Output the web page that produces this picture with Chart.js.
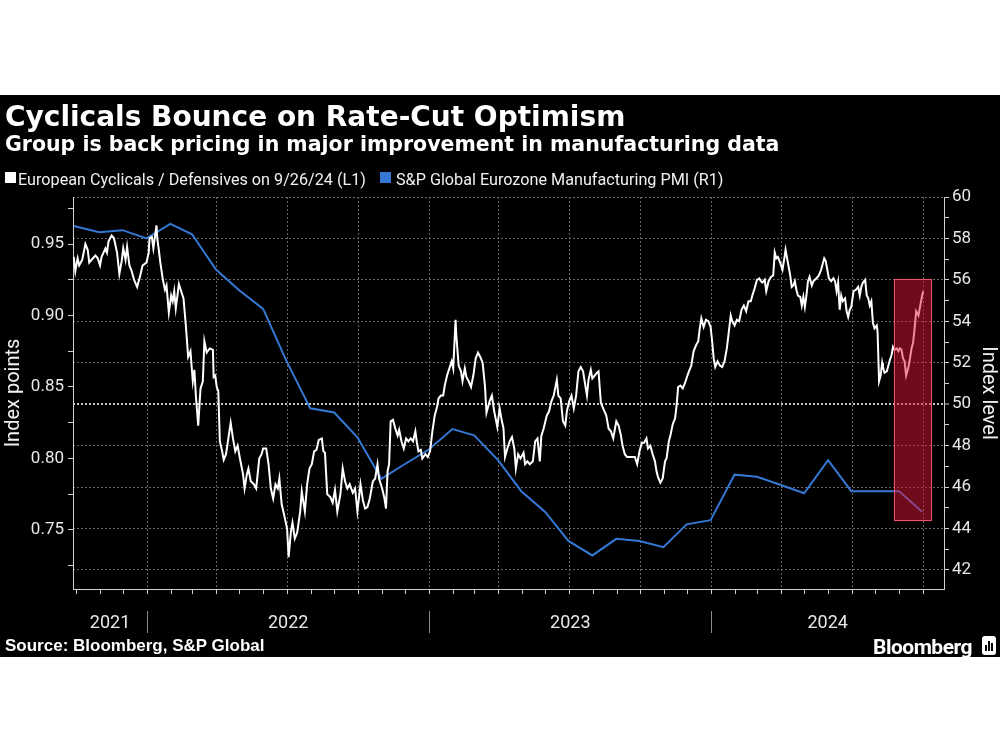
<!DOCTYPE html>
<html lang="en">
<head>
<meta charset="utf-8">
<title>Cyclicals Bounce on Rate-Cut Optimism</title>
<script src="https://cdn.jsdelivr.net/npm/chart.js@4.4.1/dist/chart.umd.min.js"></script>
<style>
  html, body { margin: 0; padding: 0; background: #fff; }
  #panel { position: absolute; left: 0; top: 95px; width: 1000px; height: 562px; background: #000; overflow: hidden; }
  #chartWrap { position: absolute; left: 0; top: 0; width: 1000px; height: 562px; }
  .txt { position: absolute; color: #fff; white-space: nowrap; line-height: 1; }
  #title { left: 5px; top: 5px; font: bold 28px 'DejaVu Sans', sans-serif; }
  #subtitle { left: 5px; top: 37px; font: bold 20.5px 'DejaVu Sans', sans-serif; }
  .legText { top: 75px; font: 16.2px Roboto, sans-serif; color: #f0f0f0; }
  .legBox { position: absolute; top: 77px; width: 11px; height: 11px; }
  #source { left: 5px; top: 541px; font: bold 17px 'Liberation Sans', sans-serif; }
  #brand { right: 28px; top: 540px; font: bold 21px Roboto, sans-serif; letter-spacing: -0.5px; }
  #brandIcon { position: absolute; left: 982px; top: 541px; width: 14px; height: 19px; background: #fff; border-radius: 3px; }
  #brandIcon span { position: absolute; bottom: 4px; width: 2px; background: #000; }
</style>
</head>
<body>
<div id="panel">
  <div id="chartWrap"><canvas id="chart"></canvas></div>
  <div class="txt" id="title">Cyclicals Bounce on Rate-Cut Optimism</div>
  <div class="txt" id="subtitle">Group is back pricing in major improvement in manufacturing data</div>
  <div class="legBox" id="legBox1" style="left:5px"></div>
  <div class="txt legText" style="left:18px">European Cyclicals / Defensives on 9/26/24 (L1)</div>
  <div class="legBox" id="legBox2" style="left:380px"></div>
  <div class="txt legText" style="left:396px">S&amp;P Global Eurozone Manufacturing PMI (R1)</div>
  <div class="txt" id="source">Source: Bloomberg, S&amp;P Global</div>
  <div class="txt" id="brand">Bloomberg</div>
  <div id="brandIcon"><span style="left:3px;height:6px"></span><span style="left:6px;height:10px"></span><span style="left:9px;height:8px"></span></div>
</div>
<script>
// x values are days counted from 1 Jan 2022
const ratioDays = [
  -95, -93, -90, -88, -84, -80, -77, -75, -72, -67,
  -64, -61, -59, -54, -52, -50, -46, -43, -39, -36,
  -33, -31, -28, -26, -23, -20, -17, -13, -9, -6,
  -1, 2, 3, 6, 8, 12, 13, 15, 17, 20,
  23, 25, 28, 31, 33, 35, 37, 41, 44, 47,
  50, 53, 56, 59, 61, 63, 66, 69, 72, 74,
  77, 81,
  85, 86, 88, 90, 92, 94, 97, 99, 102, 105,
  108, 111, 114, 117, 120, 124, 126, 129, 131, 134,
  138, 141, 145, 148, 150, 154, 157, 160, 163, 166,
  169, 171, 174, 177, 181, 183, 186, 188, 191, 194,
  198, 200, 204, 207, 210, 213, 216, 219, 222, 226,
  228, 230, 233, 237, 240, 243, 246, 250, 253, 256,
  259, 262, 266,
  269, 272, 276, 279, 282, 285, 288, 292, 295, 298,
  300, 304, 307, 309, 311, 313, 315, 318, 321, 324,
  326, 329, 332, 335, 338, 341, 344, 347, 349, 351,
  354, 356, 360, 363, 366, 369, 372, 375, 377, 380,
  383, 385, 388, 391, 394, 396, 399, 400, 403, 406,
  408, 411, 413, 416, 419, 422, 425, 428, 431, 434,
  437, 439, 443, 446, 449,
  453, 456, 459, 461, 463, 466, 469, 472, 475, 477,
  480, 483, 487, 489, 492, 495, 499, 502, 505, 508,
  510, 513, 517, 520, 523, 526, 530, 532, 535, 538,
  541, 543, 546, 549, 552, 555, 558, 561, 564, 566,
  569, 571, 574, 576, 579, 582, 584, 587, 590, 594,
  597, 600, 603, 607, 610, 613, 615, 618, 621, 625,
  628,
  631, 634, 637, 640, 643, 646, 648, 651, 654, 657,
  659, 661, 664, 667, 670, 672, 675, 677, 680, 683,
  685, 687, 690, 693, 696, 699, 701, 704, 707, 710,
  713, 715, 717, 720, 723, 726, 729, 731, 733, 735,
  738, 741, 744, 747, 750, 752, 755, 757, 760, 763,
  766, 769, 772, 775, 778, 781, 783, 786, 789, 792,
  794, 796, 799, 801, 804, 807, 810, 812,
  814, 816, 819, 822, 825, 826, 828, 831, 832, 834,
  836, 838, 840, 842, 845, 847, 849, 851, 853, 855,
  857, 860, 862, 864, 866, 869, 872, 876, 878, 880,
  882, 885, 888, 890, 892, 894, 896, 898, 900, 903,
  905, 907, 909, 911, 914, 917, 920, 922, 924, 926,
  929, 931, 933, 935, 937, 939, 941, 944, 945, 947,
  949, 951, 952, 954, 957, 959, 961, 963, 965, 967,
  970, 972, 974, 976, 978, 980, 982, 985, 987, 989,
  991, 993, 995, 998, 1000, 1002, 1004
];
const ratioValues = [
  0.941, 0.931, 0.940, 0.935, 0.939, 0.950, 0.946, 0.937, 0.939, 0.942,
  0.940, 0.935, 0.941, 0.947, 0.944, 0.952, 0.956, 0.954, 0.944, 0.929,
  0.938, 0.947, 0.939, 0.948, 0.935, 0.931, 0.925, 0.920, 0.928, 0.935,
  0.937, 0.944, 0.954, 0.955, 0.947, 0.963, 0.954, 0.946, 0.937, 0.926,
  0.918, 0.921, 0.902, 0.914, 0.910, 0.917, 0.905, 0.922, 0.917, 0.912,
  0.893, 0.871, 0.875, 0.854, 0.862, 0.844, 0.823, 0.849, 0.854, 0.882,
  0.874, 0.877,
  0.876, 0.857, 0.858, 0.850, 0.847, 0.812, 0.805, 0.799, 0.803, 0.814,
  0.825, 0.814, 0.805, 0.809, 0.800, 0.789, 0.779, 0.789, 0.793, 0.784,
  0.782, 0.779, 0.800, 0.803, 0.807, 0.807, 0.796, 0.779, 0.772, 0.782,
  0.779, 0.786, 0.768, 0.761, 0.751, 0.731, 0.749, 0.755, 0.744, 0.748,
  0.763, 0.777, 0.763, 0.782, 0.793, 0.796, 0.805, 0.806, 0.813, 0.814,
  0.805, 0.804, 0.775, 0.773, 0.769, 0.778, 0.763, 0.775, 0.793, 0.784,
  0.779, 0.782, 0.776,
  0.779, 0.763, 0.782, 0.771, 0.765, 0.766, 0.772, 0.784, 0.786, 0.796,
  0.786, 0.779, 0.772, 0.765, 0.791, 0.796, 0.826, 0.827, 0.821, 0.816,
  0.820, 0.812, 0.807, 0.814, 0.812, 0.814, 0.812, 0.819, 0.811, 0.805,
  0.806, 0.800, 0.803, 0.801, 0.805, 0.819, 0.830, 0.836, 0.842, 0.844,
  0.844, 0.851, 0.858, 0.863, 0.868, 0.863, 0.897, 0.886, 0.865, 0.861,
  0.854, 0.863, 0.857, 0.854, 0.850, 0.858, 0.870, 0.874, 0.871, 0.867,
  0.851, 0.832, 0.840, 0.844, 0.833,
  0.822, 0.835, 0.826, 0.821, 0.801, 0.807, 0.812, 0.815, 0.807, 0.793,
  0.803, 0.800, 0.804, 0.796, 0.798, 0.796, 0.798, 0.812, 0.814, 0.798,
  0.816, 0.821, 0.830, 0.833, 0.840, 0.844, 0.855, 0.844, 0.842, 0.826,
  0.823, 0.833, 0.840, 0.844, 0.835, 0.844, 0.861, 0.864, 0.861, 0.854,
  0.844, 0.855, 0.862, 0.856, 0.858, 0.860, 0.861, 0.839, 0.835, 0.830,
  0.821, 0.819, 0.814, 0.826, 0.823, 0.816, 0.809, 0.803, 0.801, 0.801,
  0.801,
  0.801, 0.796, 0.805, 0.811, 0.811, 0.814, 0.807, 0.809, 0.803, 0.798,
  0.791, 0.787, 0.783, 0.786, 0.798, 0.800, 0.812, 0.816, 0.824, 0.828,
  0.837, 0.850, 0.851, 0.849, 0.853, 0.858, 0.861, 0.865, 0.875, 0.879,
  0.882, 0.891, 0.898, 0.892, 0.897, 0.896, 0.892, 0.882, 0.870, 0.864,
  0.868, 0.865, 0.864, 0.868, 0.877, 0.886, 0.900, 0.896, 0.893, 0.897,
  0.896, 0.904, 0.907, 0.903, 0.910, 0.910, 0.914, 0.919, 0.925, 0.926,
  0.924, 0.923, 0.925, 0.917, 0.924, 0.927, 0.928, 0.944,
  0.940, 0.941, 0.937, 0.932, 0.942, 0.946, 0.940, 0.931, 0.928, 0.920,
  0.921, 0.924, 0.918, 0.914, 0.913, 0.907, 0.913, 0.906, 0.914, 0.924,
  0.927, 0.921, 0.924, 0.925, 0.926, 0.928, 0.932, 0.940, 0.938, 0.932,
  0.926, 0.924, 0.926, 0.924, 0.917, 0.923, 0.904, 0.914, 0.910, 0.912,
  0.903, 0.899, 0.904, 0.906, 0.917, 0.918, 0.920, 0.914, 0.920, 0.923,
  0.925, 0.914, 0.912, 0.907, 0.910, 0.895, 0.891, 0.893, 0.889, 0.854,
  0.858, 0.867, 0.864, 0.860, 0.861, 0.865, 0.869, 0.872, 0.878, 0.876,
  0.877, 0.875, 0.877, 0.876, 0.870, 0.868, 0.858, 0.864, 0.870, 0.877,
  0.881, 0.891, 0.903, 0.900, 0.906, 0.912, 0.917
];

// monthly PMI, plotted at month end
const pmiDays = [
  -95, -62, -32, -1, 30, 58, 89, 119, 150, 180, 211, 242,
  272, 303, 333, 364, 395, 423, 454, 484, 515, 545, 576, 607,
  637, 668, 698, 729, 760, 789, 820, 850, 881, 911, 942, 973, 1003
];
const pmiValues = [
  58.6, 58.3, 58.4, 58.0, 58.7, 58.2, 56.5, 55.5, 54.6, 52.1, 49.8, 49.6,
  48.4, 46.4, 47.1, 47.8, 48.8, 48.5, 47.3, 45.8, 44.8, 43.4, 42.7, 43.5,
  43.4, 43.1, 44.2, 44.4, 46.6, 46.5, 46.1, 45.7, 47.3, 45.8, 45.8, 45.8, 44.8
];

const yearLabels = ['2021', '2022', '2023', '2024'];

const WHITE = '#ffffff';
const BLUE = '#3478d4';
const GRID = '#666666';
const AXIS = '#d0d0d0';

const X_MIN = -96, X_MAX = 1031;
// shaded highlight, in x days and right-axis units
const highlight = { x0: 966, x1: 1015, y0: 44.35, y1: 56.05 };

document.getElementById('legBox1').style.background = WHITE;
document.getElementById('legBox2').style.background = BLUE;

const DAY_MS = 86400000;
const BASE = Date.UTC(2022, 0, 1);
const dayOf = (y, m) => Math.round((Date.UTC(y, m, 1) - BASE) / DAY_MS);

const monthTicks = [];
const quarterDays = new Set();
for (let y = 2021; y <= 2024; y++) {
  for (let m = 0; m < 12; m++) {
    const d = dayOf(y, m);
    if (d < X_MIN || d > X_MAX) continue;
    monthTicks.push({ value: d });
    if (m % 3 === 0 && d >= 0) quarterDays.add(d);
  }
}

const overlays = {
  id: 'overlays',
  afterDatasetsDraw(chart) {
    const { ctx, scales: { x, y2 } } = chart;
    const l = x.getPixelForValue(highlight.x0);
    const r = x.getPixelForValue(highlight.x1);
    const t = y2.getPixelForValue(highlight.y1);
    const b = y2.getPixelForValue(highlight.y0);
    ctx.save();
    ctx.fillStyle = 'rgba(224, 20, 51, 0.49)';
    ctx.fillRect(l, t, r - l, b - t);
    ctx.strokeStyle = 'rgba(236, 96, 116, 0.9)';
    ctx.lineWidth = 1;
    ctx.strokeRect(Math.round(l) + 0.5, Math.round(t) + 0.5, Math.round(r - l) - 1, Math.round(b - t) - 1);
    ctx.restore();
  },
  afterDraw(chart) {
    const { ctx, chartArea, scales: { x } } = chart;
    ctx.save();
    ctx.font = '18px Roboto, sans-serif';
    ctx.fillStyle = '#e8e8e8';
    ctx.textAlign = 'center';
    ctx.textBaseline = 'middle';
    yearLabels.forEach((label, i) => {
      const yr = parseInt(label, 10);
      const start = Math.max(dayOf(yr, 0), X_MIN);
      const end = Math.min(dayOf(yr + 1, 0), X_MAX);
      ctx.fillText(label, x.getPixelForValue((start + end) / 2), chartArea.bottom + 34);
      if (i > 0) {
        const px = Math.round(x.getPixelForValue(dayOf(yr, 0))) + 0.5;
        ctx.strokeStyle = '#8a8a8a';
        ctx.lineWidth = 1;
        ctx.beginPath();
        ctx.moveTo(px, chartArea.bottom + 22);
        ctx.lineTo(px, chartArea.bottom + 44);
        ctx.stroke();
      }
    });
    ctx.restore();
  }
};

new Chart(document.getElementById('chart'), {
  type: 'line',
  data: {
    datasets: [
      {
        label: 'European Cyclicals / Defensives on 9/26/24 (L1)',
        data: ratioDays.map((d, i) => ({ x: d, y: ratioValues[i] })),
        borderColor: WHITE,
        borderWidth: 2,
        pointRadius: 0,
        tension: 0,
        yAxisID: 'y'
      },
      {
        label: 'S&P Global Eurozone Manufacturing PMI (R1)',
        data: pmiDays.map((d, i) => ({ x: d, y: pmiValues[i] })),
        borderColor: BLUE,
        borderWidth: 2,
        pointRadius: 0,
        tension: 0,
        yAxisID: 'y2'
      }
    ]
  },
  options: {
    responsive: true,
    maintainAspectRatio: false,
    animation: false,
    layout: { padding: { top: 102, left: 0, right: 0, bottom: 0 } },
    plugins: {
      legend: { display: false },
      tooltip: { enabled: false }
    },
    scales: {
      x: {
        type: 'linear',
        min: X_MIN,
        max: X_MAX,
        afterBuildTicks: (scale) => { scale.ticks = monthTicks.map(t => ({ value: t.value })); },
        afterFit: (scale) => { scale.height = 68; },
        ticks: { display: false, autoSkip: false },
        grid: {
          color: (c) => (c.tick && quarterDays.has(c.tick.value) ? GRID : 'rgba(0,0,0,0)'),
          tickColor: AXIS,
          tickLength: 5,
          tickBorderDash: []
        },
        border: { color: AXIS, dash: [2, 2] }
      },
      y: {
        position: 'left',
        min: 0.7087,
        max: 0.9829,
        afterFit: (scale) => { scale.width = 73; },
        ticks: {
          stepSize: 0.025,
          includeBounds: false,
          autoSkip: false,
          padding: 4,
          color: '#e8e8e8',
          font: { family: 'Roboto', size: 17 },
          callback: (v) => (Math.round(v * 1000) % 50 === 0 ? v.toFixed(2) : '')
        },
        grid: { drawOnChartArea: false, tickColor: AXIS, tickLength: 5 },
        border: { color: AXIS },
        title: {
          display: true,
          text: 'Index points',
          color: '#f0f0f0',
          font: { family: 'Roboto', size: 20 },
          padding: { top: 2, bottom: 0 }
        }
      },
      y2: {
        position: 'right',
        min: 41.08,
        max: 60,
        afterFit: (scale) => { scale.width = 56; },
        ticks: {
          stepSize: 1,
          includeBounds: false,
          autoSkip: false,
          padding: 3,
          color: '#e8e8e8',
          font: { family: 'Roboto', size: 17 },
          callback: (v) => (v % 2 === 0 ? String(v) : '')
        },
        grid: {
          drawOnChartArea: true,
          color: (c) => {
            const v = c.tick ? c.tick.value : 0;
            if (v % 2 !== 0) return 'rgba(0,0,0,0)';
            return v === 50 ? '#c8c8c8' : GRID;
          },
          lineWidth: (c) => (c.tick && c.tick.value === 50 ? 2 : 1),
          tickColor: AXIS,
          tickWidth: 1,
          tickLength: 5,
          tickBorderDash: []
        },
        border: { color: AXIS, dash: [2, 2] },
        title: {
          display: true,
          text: 'Index level',
          color: '#f0f0f0',
          font: { family: 'Roboto', size: 20 },
          padding: { top: 0, bottom: 0 }
        }
      }
    }
  },
  plugins: [overlays]
});
</script>
</body>
</html>
